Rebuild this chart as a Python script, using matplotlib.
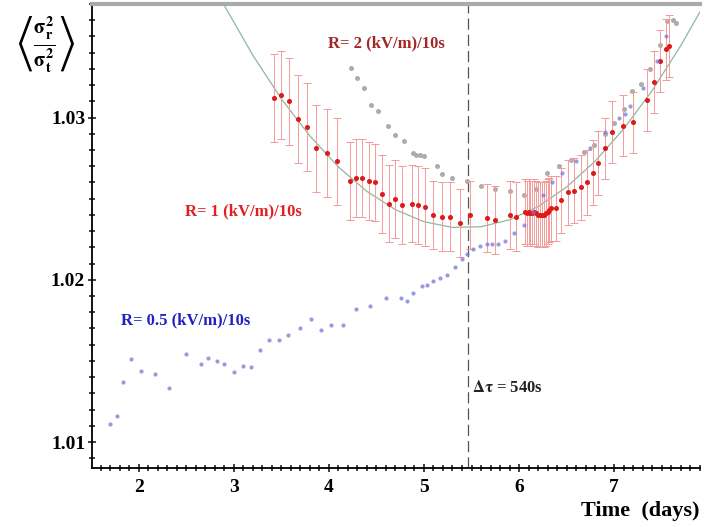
import numpy as np
import matplotlib
matplotlib.use("Agg")
import matplotlib.pyplot as plt
from matplotlib.ticker import MultipleLocator

# R = 1 (kV/m)/10s, with error bars
x_r1 = [3.42, 3.50, 3.58, 3.68, 3.77, 3.87, 3.98, 4.09,
        4.22, 4.29, 4.35, 4.42, 4.49, 4.56, 4.63, 4.70, 4.77, 4.87, 4.94, 5.01,
        5.10, 5.19, 5.27, 5.38, 5.48, 5.66, 5.75, 5.90, 5.97,
        6.06, 6.08, 6.10, 6.12, 6.14, 6.16, 6.18, 6.20, 6.22, 6.24, 6.26, 6.28, 6.30, 6.32, 6.34,
        6.39, 6.44, 6.51, 6.58, 6.65, 6.71, 6.78, 6.83,
        6.90, 6.98, 7.09, 7.20, 7.34, 7.42, 7.48, 7.55, 7.58]
y_r1 = [1.0312, 1.0314, 1.0310, 1.0299, 1.0294, 1.0281, 1.0278, 1.0273,
        1.0261, 1.0263, 1.0263, 1.0261, 1.0260, 1.0253, 1.0247, 1.0250, 1.0246, 1.0247, 1.0246, 1.0245,
        1.0240, 1.0239, 1.0239, 1.0235, 1.0240, 1.0238, 1.0237, 1.0240, 1.0239,
        1.0242, 1.0241, 1.0242, 1.0241, 1.0241, 1.0242, 1.0241, 1.0240, 1.0240, 1.0240, 1.0240, 1.0241, 1.0242, 1.0243, 1.0244,
        1.0244, 1.0249, 1.0254, 1.0255, 1.0257, 1.0260, 1.0266, 1.0272,
        1.0281, 1.0291, 1.0295, 1.0297, 1.0311, 1.0322, 1.0335, 1.0342, 1.0344]
err_r1 = [0.0027, 0.0027, 0.0027, 0.0027, 0.0027, 0.0027, 0.0027, 0.0027,
          0.0024, 0.0024, 0.0024, 0.0024, 0.0024, 0.0024, 0.0024, 0.0024, 0.0024, 0.0024, 0.0024, 0.0024,
          0.0021, 0.0021, 0.0021, 0.0021, 0.0021, 0.0021, 0.0021, 0.0021, 0.0021,
          0.0020, 0.0020, 0.0020, 0.0020, 0.0020, 0.0020, 0.0020, 0.0020, 0.0020, 0.0020, 0.0020, 0.0020, 0.0020, 0.0020, 0.0020,
          0.0020, 0.0020, 0.0020, 0.0020, 0.0020, 0.0020, 0.0020, 0.0020,
          0.0019, 0.0019, 0.0019, 0.0019, 0.0019, 0.0019, 0.0019, 0.0019, 0.0019]

# R = 0.5 (kV/m)/10s
x_r05 = [1.70, 1.77, 1.84, 1.92, 2.03, 2.17, 2.32, 2.50, 2.66, 2.73,
         2.82, 2.90, 3.00, 3.10, 3.18, 3.28, 3.37, 3.48, 3.57, 3.70,
         3.81, 3.92, 4.02, 4.15, 4.29, 4.43, 4.60, 4.76, 4.82, 4.89,
         4.98, 5.03, 5.10, 5.17, 5.24, 5.33, 5.40, 5.45, 5.52, 5.59,
         5.66, 5.72, 5.78, 5.85, 5.95, 6.05, 6.15, 6.25, 6.35, 6.45,
         6.60, 6.75, 6.90, 7.05, 7.11, 7.17, 7.30, 7.45, 7.55]
y_r05 = [1.0111, 1.0116, 1.0137, 1.0151, 1.0144, 1.0142, 1.0133, 1.0154, 1.0148, 1.0152,
         1.0150, 1.0148, 1.0143, 1.0147, 1.0146, 1.0157, 1.0163, 1.0163, 1.0166, 1.0170,
         1.0176, 1.0169, 1.0172, 1.0172, 1.0182, 1.0184, 1.0189, 1.0189, 1.0187, 1.0192,
         1.0196, 1.0197, 1.0199, 1.0201, 1.0203, 1.0208, 1.0213, 1.0216, 1.0219, 1.0221,
         1.0222, 1.0222, 1.0222, 1.0224, 1.0229, 1.0234, 1.0242, 1.0252, 1.0260, 1.0266,
         1.0273, 1.0281, 1.0291, 1.0300, 1.0302, 1.0307, 1.0318, 1.0335, 1.0350]

# R = 2 (kV/m)/10s
x_r2 = [4.23, 4.30, 4.37, 4.44, 4.52, 4.62, 4.70, 4.79, 4.88, 4.92,
        4.96, 5.00, 5.14, 5.19, 5.30, 5.45, 5.60, 5.75, 5.90, 6.05,
        6.18, 6.29, 6.42, 6.55, 6.68, 6.79, 6.90, 7.00, 7.10, 7.19,
        7.28, 7.38, 7.48, 7.56, 7.62, 7.65]
y_r2 = [1.03307, 1.03245, 1.03183, 1.0308, 1.03039, 1.02946, 1.02895, 1.02854, 1.0278, 1.02772,
        1.0277, 1.02765, 1.0270, 1.02654, 1.0263, 1.02607, 1.0258, 1.0256, 1.0255, 1.0252,
        1.0256, 1.0266, 1.0270, 1.0274, 1.0279, 1.02833, 1.0290, 1.02967, 1.0305, 1.03162,
        1.03204, 1.0330, 1.0345, 1.03595, 1.0360, 1.03585]

# green fit curve
x_fit = [2.9, 3.2, 3.5, 3.8, 4.1, 4.4, 4.7, 5.0, 5.3, 5.6, 5.9, 6.2, 6.5, 6.8, 7.1, 7.4, 7.7, 7.92]
y_fit = [1.03692, 1.03385, 1.03116, 1.02887, 1.02696, 1.02545, 1.02432, 1.02358, 1.02323,
         1.02327, 1.0237, 1.02451, 1.02572, 1.02731, 1.0293, 1.03167, 1.03443, 1.0367]

t_cut = 5.46

serif = ['Liberation Serif', 'DejaVu Serif']
plt.rcParams['mathtext.fontset'] = 'stix'

fig = plt.figure(figsize=(7.04, 5.27), dpi=100)
ax = fig.add_axes([0.1307, 0.112, 0.994 - 0.1307, 0.9924 - 0.112])

ax.plot(x_fit, y_fit, color='#8fb89a', lw=0.9, zorder=1)
ax.axvline(t_cut, color='#555555', lw=0.9, dashes=(9, 4), zorder=1)

ax.errorbar(x_r1, y_r1, yerr=err_r1, fmt='o', ms=2.6, color='#dd1a1a',
            ecolor='#f39a9a', elinewidth=0.7, capsize=3, capthick=0.7, zorder=3)
ax.plot(x_r2, y_r2, 'o', ms=2.6, color='#a8a8a8', alpha=0.9, zorder=2)
ax.plot(x_r05, y_r05, 'o', ms=3.0, color='#7878d8', alpha=0.75, mew=0, zorder=4)

ax.text(4.61, 1.0346, 'R= 2 (kV/m)/10s', color='#a02828', fontsize=12,
        fontweight='bold', family=serif, ha='center', va='center')
ax.text(2.49, 1.0242, 'R= 1 (kV/m)/10s', color='#e02020', fontsize=12,
        fontweight='bold', family=serif, ha='left', va='center')
ax.text(1.82, 1.0175, 'R= 0.5 (kV/m)/10s', color='#2020c0', fontsize=12,
        fontweight='bold', family=serif, ha='left', va='center')
ax.text(5.50, 1.0133, r'$\mathbf{\Delta\tau}$ = 540s', color='#222222', fontsize=12,
        fontweight='bold', family=serif, ha='left', va='center')

ax.set_xlim(1.51, 7.90)
ax.set_ylim(1.0084, 1.0370)
ax.set_xticks([2, 3, 4, 5, 6, 7])
ax.set_yticks([1.01, 1.02, 1.03])
ax.set_yticklabels(['1.01', '1.02', '1.03'])
ax.xaxis.set_minor_locator(MultipleLocator(0.1))
ax.yaxis.set_minor_locator(MultipleLocator(0.001))
ax.tick_params(which='both', direction='inout', color='#222222', width=1.2)
ax.tick_params(which='major', length=6)
ax.tick_params(which='minor', length=4)
ax.tick_params(axis='x', pad=5)
ax.tick_params(axis='y', pad=2)
for lab in ax.get_xticklabels() + ax.get_yticklabels():
    lab.set_family(serif)
    lab.set_fontweight('bold')
    lab.set_fontsize(14)

ax.spines['right'].set_visible(False)
ax.spines['top'].set_color('#aaaaaa')
ax.spines['top'].set_linewidth(3)
ax.spines['left'].set_linewidth(1.3)
ax.spines['bottom'].set_linewidth(1.3)

fig.text(0.994, 0.030, 'Time  (days)', fontsize=16, fontweight='bold',
         family=serif, ha='right', va='center')
fig.text(0.065, 0.915, r'$\left\langle\frac{\mathbf{\sigma_r^2}}{\mathbf{\sigma_t^2}}\right\rangle$',
         fontsize=21, ha='center', va='center')

fig.savefig('out.png', dpi=100)
